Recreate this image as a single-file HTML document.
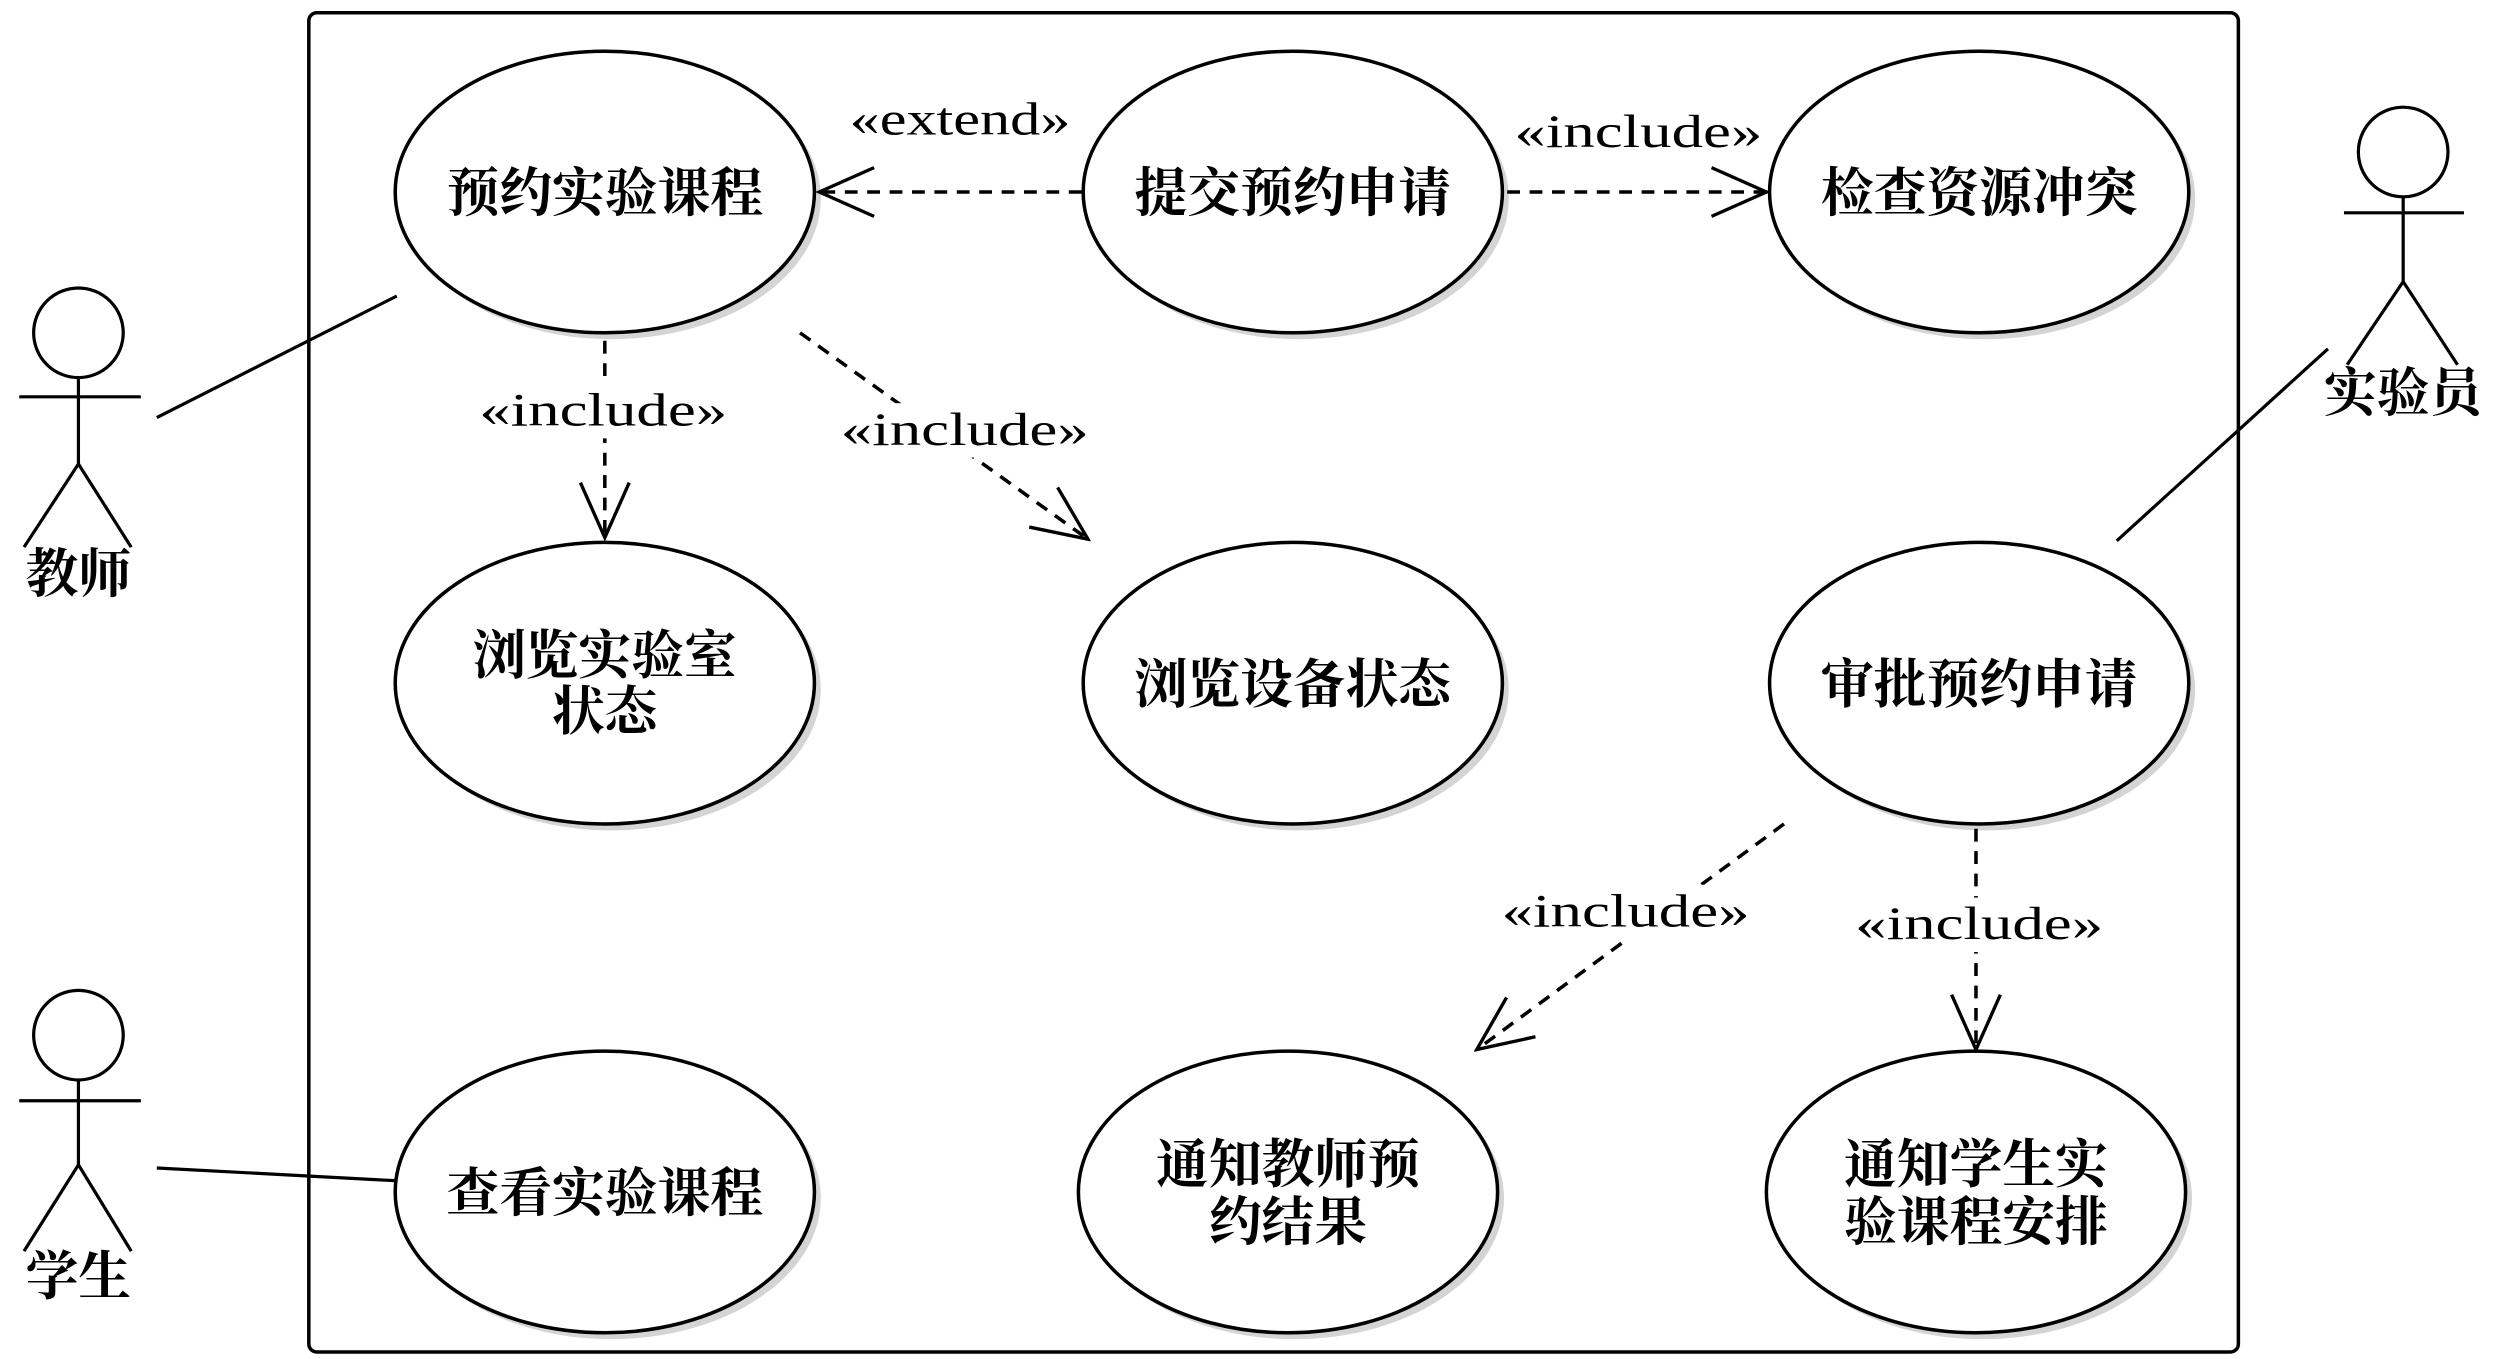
<!DOCTYPE html>
<html><head><meta charset="utf-8"><style>html,body{margin:0;padding:0;background:#fff}svg{display:block}</style></head><body>
<svg width="2498" height="1359" viewBox="0 0 1561.25 849.4" xmlns="http://www.w3.org/2000/svg">
<defs>
<marker id="ar" markerWidth="40" markerHeight="40" refX="0" refY="0" orient="auto" markerUnits="userSpaceOnUse" viewBox="-40 -20 42 40">
<path d="M-36,-16 L0,0 L-36,16" fill="none" stroke="#000" stroke-width="2.2"/>
</marker>
</defs>
<rect x="193" y="8" width="1206" height="837" rx="5" fill="#fff" stroke="#000" stroke-width="2.2"/>
<g fill="#fff" stroke="#000" stroke-width="2.2">
<g transform="translate(4,4)" stroke="none" fill="#d4d4d4">
<ellipse cx="378" cy="120" rx="131" ry="88"/><ellipse cx="808" cy="120" rx="131" ry="88"/><ellipse cx="1237" cy="120" rx="131" ry="88"/>
<ellipse cx="378" cy="427" rx="131" ry="88"/><ellipse cx="808" cy="427" rx="131" ry="88"/><ellipse cx="1237" cy="427" rx="131" ry="88"/>
<ellipse cx="378" cy="745" rx="131" ry="88"/><ellipse cx="805" cy="745" rx="131" ry="88"/><ellipse cx="1235" cy="745" rx="131" ry="88"/>
</g>
<ellipse cx="378" cy="120" rx="131" ry="88"/><ellipse cx="808" cy="120" rx="131" ry="88"/><ellipse cx="1237" cy="120" rx="131" ry="88"/>
<ellipse cx="378" cy="427" rx="131" ry="88"/><ellipse cx="808" cy="427" rx="131" ry="88"/><ellipse cx="1237" cy="427" rx="131" ry="88"/>
<ellipse cx="378" cy="745" rx="131" ry="88"/><ellipse cx="805" cy="745" rx="131" ry="88"/><ellipse cx="1235" cy="745" rx="131" ry="88"/>
</g>
<g stroke="#000" stroke-width="2" fill="none">
<line x1="98" y1="261" x2="248" y2="185"/>
<line x1="98" y1="730" x2="248" y2="738"/>
<line x1="1455" y1="218" x2="1323" y2="338"/>
</g>
<g stroke="#000" stroke-width="2.2" fill="none" stroke-dasharray="8,6" marker-end="url(#ar)">
<line x1="676" y1="120" x2="512" y2="120"/>
<line x1="942" y1="120" x2="1104" y2="120"/>
<line x1="378" y1="213" x2="378" y2="336"/>
<line x1="500" y1="208" x2="680" y2="337"/>
<line x1="1115" y1="515" x2="923" y2="656"/>
<line x1="1235" y1="518" x2="1235" y2="656"/>
</g>
<g font-family="'Liberation Serif','Noto Serif CJK SC',serif" font-size="29" text-anchor="middle" fill="#000">
<rect x="528" y="58" width="144" height="34" fill="#fff"/><text x="600" y="84" textLength="138" lengthAdjust="spacingAndGlyphs">«extend»</text>
<rect x="945" y="66" width="158" height="34" fill="#fff"/><text x="1024" y="92" textLength="155" lengthAdjust="spacingAndGlyphs">«include»</text>
<rect x="299" y="240" width="158" height="34" fill="#fff"/><text x="377" y="266" textLength="155" lengthAdjust="spacingAndGlyphs">«include»</text>
<rect x="524" y="252" width="158" height="34" fill="#fff"/><text x="603" y="278" textLength="155" lengthAdjust="spacingAndGlyphs">«include»</text>
<rect x="938" y="553" width="158" height="34" fill="#fff"/><text x="1016" y="579" textLength="155" lengthAdjust="spacingAndGlyphs">«include»</text>
<rect x="1159" y="561" width="158" height="34" fill="#fff"/><text x="1237" y="587" textLength="155" lengthAdjust="spacingAndGlyphs">«include»</text>
</g>
<g font-family="'Liberation Serif','Noto Serif CJK SC',serif" font-size="33" font-weight="bold" text-anchor="middle" fill="#000">
<text x="378" y="132">预约实验课程</text>
<text x="808" y="132">提交预约申请</text>
<text x="1237" y="132">检查资源冲突</text>
<text x="378" y="421">浏览实验室</text><text x="378" y="456">状态</text>
<text x="808" y="439">浏览设备状态</text>
<text x="1237" y="439">审批预约申请</text>
<text x="378" y="757">查看实验课程</text>
<text x="805" y="739">通知教师预</text><text x="805" y="775">约结果</text>
<text x="1235" y="739">通知学生实</text><text x="1235" y="775">验课程安排</text>
<text x="49" y="370">教师</text>
<text x="49" y="809">学生</text>
<text x="1502" y="257">实验员</text>
</g>
<g stroke="#000" stroke-width="2" fill="#fff">
<circle cx="49" cy="208" r="28"/><path d="M49,236V290M12,248H88M15,342L49,290L82,342" fill="none"/>
<circle cx="49" cy="647" r="28"/><path d="M49,675V728M12,688H88M15,782L49,728L82,782" fill="none"/>
<circle cx="1502" cy="95" r="28"/><path d="M1502,123V176M1465,133H1540M1467,228L1502,176L1536,228" fill="none"/>
</g>
</svg>
</body></html>
